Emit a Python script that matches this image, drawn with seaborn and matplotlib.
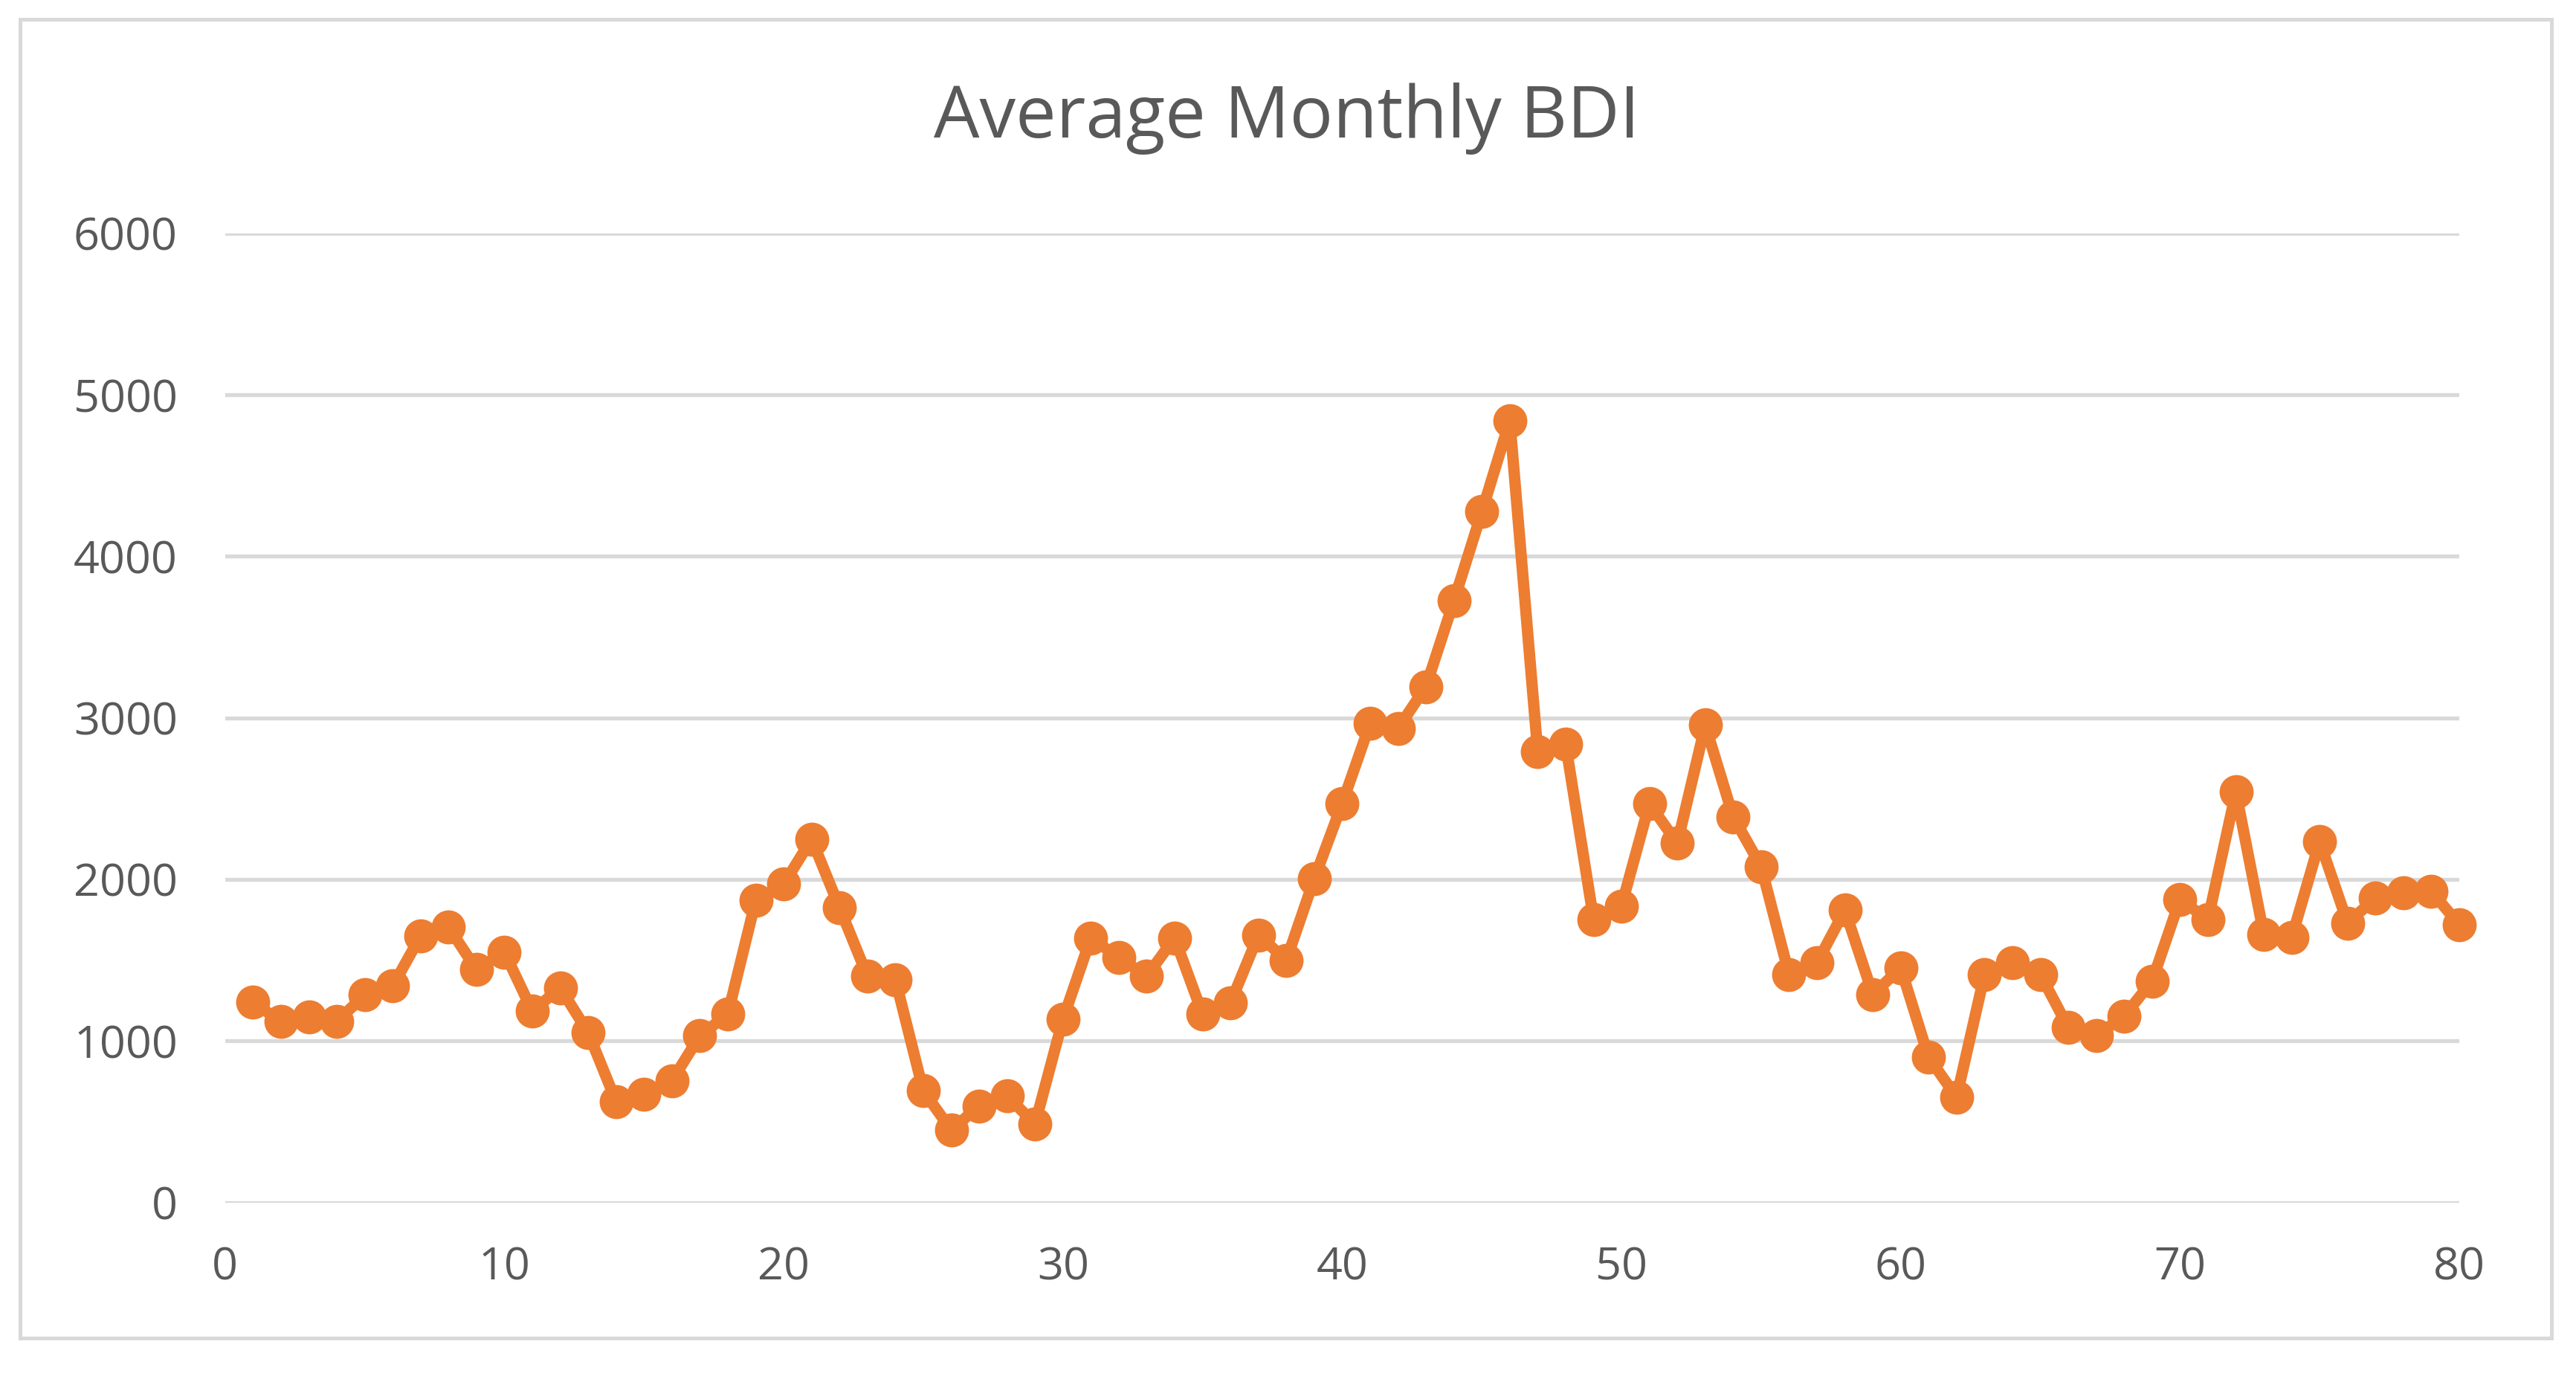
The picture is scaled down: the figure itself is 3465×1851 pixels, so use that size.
import seaborn as sns
import pandas as pd
import numpy as np
from matplotlib import pyplot as plt
from matplotlib.patches import Rectangle

sns.set_theme(style="white")
plt.rcParams["font.family"] = ["Open Sans", "DejaVu Sans"]

# monthly index and average BDI
MONTHS = list(range(1, 81))
BDI = [
    1240, 1120, 1150, 1120, 1285, 1340, 1650, 1705, 1442, 1550,
    1185, 1328, 1052, 625, 672, 755, 1032, 1166, 1870, 1970,
    2250, 1825, 1401, 1380, 691, 448, 598, 660, 486, 1134,
    1638, 1516, 1401, 1638, 1166, 1236, 1655, 1500, 2005, 2470,
    2965, 2935, 3194, 3725, 4276, 4840, 2790, 2838, 1753, 1836,
    2468, 2224, 2955, 2387, 2080, 1411, 1484, 1810, 1288, 1452,
    898, 652, 1411, 1484, 1411, 1083, 1032, 1154, 1370, 1876,
    1751, 2542, 1659, 1640, 2235, 1730, 1885, 1917, 1926, 1720,
]
Y_TICKS = [0, 1000, 2000, 3000, 4000, 5000, 6000]
X_TICKS = [0, 10, 20, 30, 40, 50, 60, 70, 80]

TEXT_COLOR = "#595959"
GRID_COLOR = "#D9D9D9"
LINE_COLOR = "#ED7D31"

df = pd.DataFrame({"month": MONTHS, "bdi": BDI})

fig = plt.figure(figsize=(34.65, 18.51), dpi=100)
ax = fig.add_axes([0.0874, 0.1261, 0.8673, 0.7044])

# chart border like the spreadsheet export
fig.patches.append(Rectangle((0.0077, 0.0274), 0.9827, 0.9583, transform=fig.transFigure,
                             fill=False, edgecolor=GRID_COLOR, linewidth=3.6, zorder=0))

for y in Y_TICKS:
    ax.axhline(y, color=GRID_COLOR, linewidth=3.8, zorder=1)

sns.lineplot(data=df, x="month", y="bdi", ax=ax, color=LINE_COLOR, linewidth=11,
             marker="o", markersize=33, markeredgewidth=0, zorder=3, clip_on=False)

ax.set_xlim(0, 80)
ax.set_ylim(0, 6000)
ax.set_xticks(X_TICKS)
ax.set_yticks(Y_TICKS)
ax.set_xlabel("")
ax.set_ylabel("")
for s in ax.spines.values():
    s.set_visible(False)
ax.tick_params(axis="both", length=0, labelsize=44, labelcolor=TEXT_COLOR)
ax.tick_params(axis="y", pad=46)
ax.tick_params(axis="x", pad=42)

fig.text(0.4994, 0.914, "Average Monthly BDI", ha="center", va="center",
         fontsize=70, color=TEXT_COLOR)

fig.savefig("out.png", dpi=100)
